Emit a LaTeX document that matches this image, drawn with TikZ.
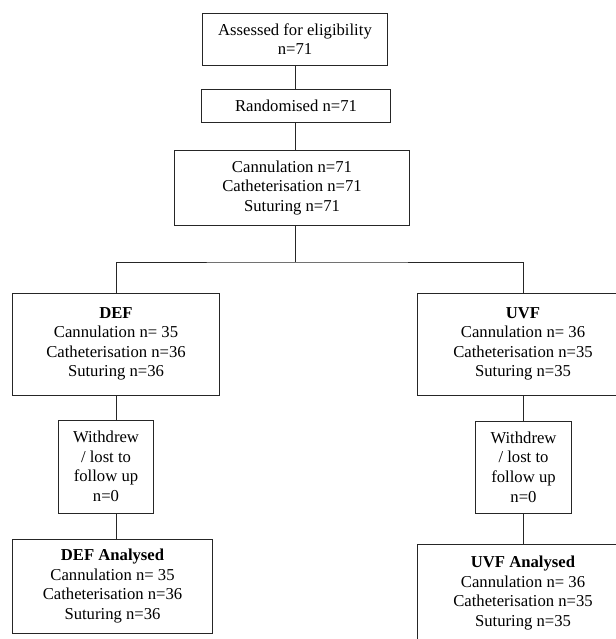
\documentclass[tikz,border=0pt]{standalone}
\usepackage{fontspec}
\setmainfont{Liberation Serif}
\usetikzlibrary{calc}
\tikzset{
	flowbox/.style={draw=black!85, line width=0.7pt, inner sep=0pt, outer sep=0pt, align=center, font=\fontsize{11.85}{13.9}\selectfont},
	flowline/.style={draw=black!85, line width=0.7pt}
}
\begin{document}
\begin{tikzpicture}[x=0.025cm, y=-0.025cm]
		\useasboundingbox (0,0) rectangle (616,639);
		
		% Enrolment
		\node[flowbox, minimum width=4.6cm, minimum height=1.3cm] (assess) at (295,39) {Assessed for eligibility\\n=71};
		\node[flowbox, minimum width=4.7cm, minimum height=0.825cm] (rand) at (296,105.5) {Randomised n=71};
		\node[flowbox, minimum width=5.85cm, minimum height=1.875cm] (proc) at (292,188) {Cannulation n=71\\Catheterisation n=71\\Suturing n=71};
		\coordinate (split) at (295,262);
		
		% Allocation
		\node[flowbox, minimum width=5.15cm, minimum height=2.55cm] (def) at (116,344) {\textbf{DEF}\\Cannulation n= 35\\Catheterisation n=36\\Suturing n=36};
		\node[flowbox, minimum width=5.25cm, minimum height=2.55cm] (uvf) at (523,344) {\textbf{UVF}\\Cannulation n= 36\\Catheterisation n=35\\Suturing n=35};
		
		% Follow up
		\node[flowbox, minimum width=2.35cm, minimum height=2.325cm] (wdl) at (106,466.5) {Withdrew\\/ lost to\\follow up\\n=0};
		\node[flowbox, minimum width=2.375cm, minimum height=2.3cm] (wdr) at (523.5,467) {Withdrew\\/ lost to\\follow up\\n=0};
		
		% Analysis
		\node[flowbox, minimum width=4.975cm, minimum height=2.35cm] (defa) at (112.5,586) {\textbf{DEF Analysed}\\Cannulation n= 35\\Catheterisation n=36\\Suturing n=36};
		\node[flowbox, minimum width=5.25cm, minimum height=2.45cm] (uvfa) at (523,593) {\textbf{UVF Analysed}\\Cannulation n= 36\\Catheterisation n=35\\Suturing n=35};
		
		% Connectors
		\draw[flowline] (assess.south) -- (assess.south |- rand.north);
		\draw[flowline] (assess.south |- rand.south) -- (assess.south |- proc.north);
		\draw[flowline] (split |- proc.south) -- (split);
		\draw[flowline] (def.north) |- (split) -| (uvf.north);
		\draw[flowline] (def.south) -- (def.south |- wdl.north);
		\draw[flowline] (def.south |- wdl.south) -- (def.south |- defa.north);
		\draw[flowline] (uvf.south) -- (uvf.south |- wdr.north);
		\draw[flowline] (uvf.south |- wdr.south) -- (uvf.south |- uvfa.north);
	\end{tikzpicture}
\end{document}
